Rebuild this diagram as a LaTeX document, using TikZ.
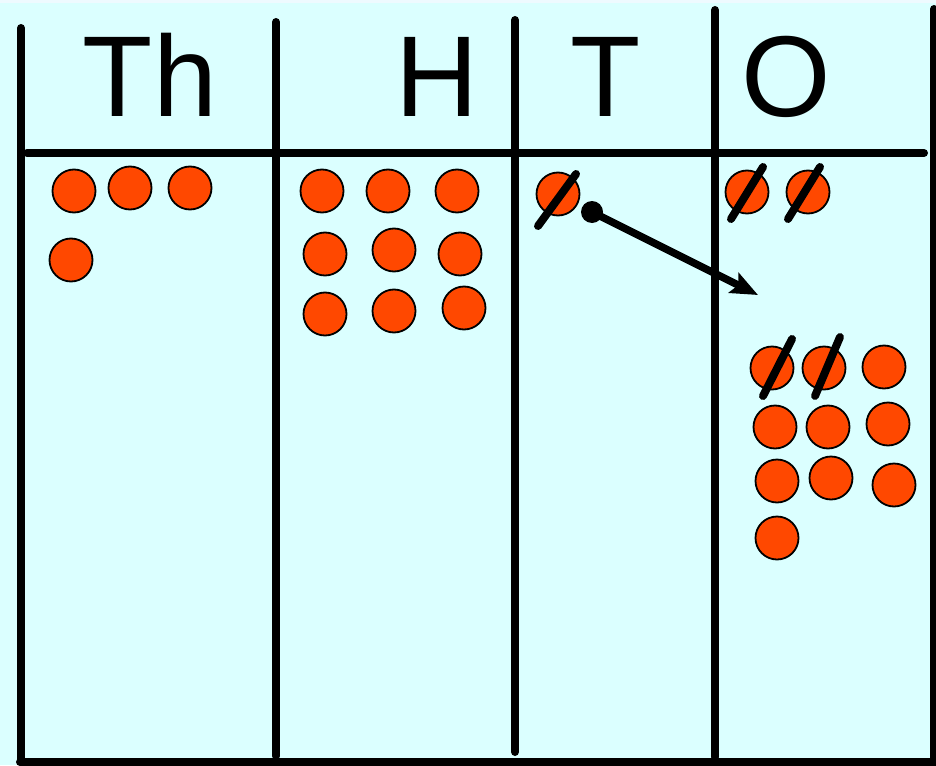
\documentclass[tikz,border=0pt]{standalone}
\usepackage{fontspec}
\setmainfont{Liberation Sans}
\usetikzlibrary{arrows.meta}
\definecolor{boardbg}{RGB}{219,255,255}
\definecolor{stripbg}{RGB}{238,250,255}
\definecolor{counterfill}{RGB}{255,72,0}
\tikzset{
  rule/.style={line width=8pt, line cap=round, black},
  counter/.style={circle, draw=black, line width=1.8pt, fill=counterfill,
    minimum size=43pt, inner sep=0pt},
  heading/.style={anchor=base, inner sep=0pt, font=\fontsize{115}{115}\selectfont},
  slash/.style={line width=8pt, line cap=round, black},
  carry/.style={line width=7.5pt, black, -{Stealth[length=27pt,width=22pt,inset=5pt]}},
}
\begin{document}
\begin{tikzpicture}[x=1pt,y=-1pt]
  \useasboundingbox (0,0) rectangle (936,765);
  \fill[boardbg] (0,0) rectangle (936,765);
  \fill[stripbg] (0,0) rectangle (936,3);

  % column rules
  \draw[rule] (21,28) -- (21,762);
  \draw[rule] (276,22) -- (276,756);
  \draw[rule] (515,20) -- (515,752);
  \draw[rule] (715,10) -- (715,757);
  \draw[rule] (934,9) -- (934,765);
  \draw[rule] (27,153) -- (924,153);
  \draw[rule] (20,762) -- (940,762);

  % column headings
  \node[heading] (hTh) at (150,117) {Th};
  \node[heading] (hH) at (437,117) {H};
  \node[heading] (hT) at (606,117) {T};
  \node[heading] (hO) at (786,117) {O};

  % thousands
  \node[counter] (th1) at (74,191) {};
  \node[counter] (th2) at (130,188) {};
  \node[counter] (th3) at (190,188) {};
  \node[counter] (th4) at (71,260) {};

  % hundreds
  \node[counter] (h1) at (322,191) {};
  \node[counter] (h2) at (388,191) {};
  \node[counter] (h3) at (457,191) {};
  \node[counter] (h4) at (325,254) {};
  \node[counter] (h5) at (394,250) {};
  \node[counter] (h6) at (460,254) {};
  \node[counter] (h7) at (325,314) {};
  \node[counter] (h8) at (394,311) {};
  \node[counter] (h9) at (464,308) {};

  % tens: one counter exchanged
  \node[counter] (t1) at (558,194) {};
  \draw[slash] (538,226) -- (576,174);
  \node[circle, fill=black, minimum size=22pt, inner sep=0pt] (dot) at (592,212) {};
  \coordinate (tip) at (758,295);
  \draw[carry] (dot.center) -- (tip);

  % ones: original counters
  \node[counter] (o1) at (747,192) {};
  \node[counter] (o2) at (808,192) {};
  \draw[slash] (731,219) -- (763,167);
  \draw[slash] (788,219) -- (820,167);

  % ones: counters after the exchange
  \node[counter] (o3) at (772,368) {};
  \node[counter] (o4) at (824,368) {};
  \node[counter] (o5) at (884,367) {};
  \node[counter] (o6) at (775,427) {};
  \node[counter] (o7) at (828,427) {};
  \node[counter] (o8) at (888,424) {};
  \node[counter] (o9) at (777,481) {};
  \node[counter] (o10) at (831,478) {};
  \node[counter] (o11) at (894,485) {};
  \node[counter] (o12) at (777,538) {};
  \draw[slash] (763,396) -- (792,339);
  \draw[slash] (815,396) -- (840,337);
\end{tikzpicture}
\end{document}
